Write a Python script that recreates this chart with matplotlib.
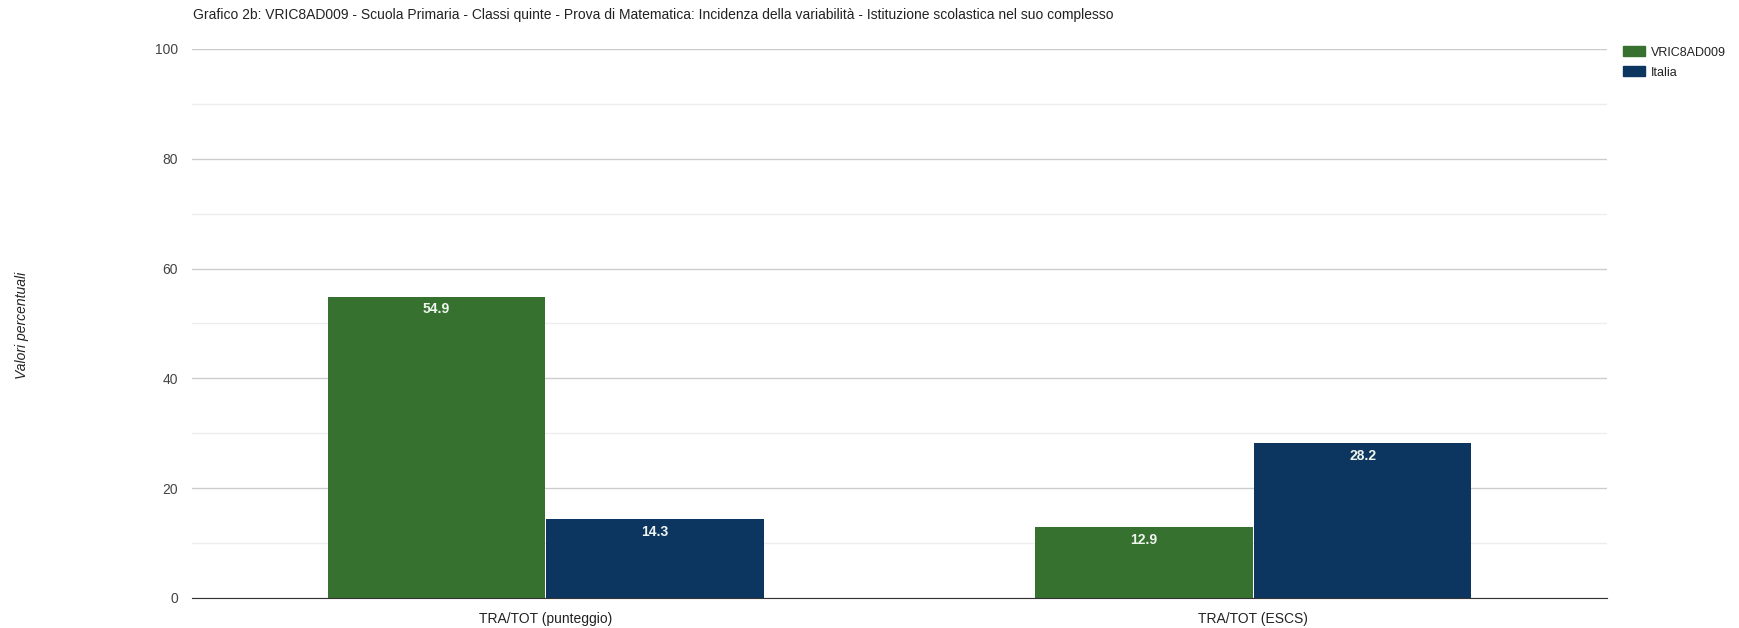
import numpy as np
import matplotlib.pyplot as plt
from matplotlib.patches import Patch
from matplotlib.ticker import MultipleLocator

categories = ["TRA/TOT (punteggio)", "TRA/TOT (ESCS)"]
series_names = ["VRIC8AD009", "Italia"]
school_vals = [54.9, 12.9]
italy_vals = [14.3, 28.2]

title = ("Grafico 2b: VRIC8AD009 - Scuola Primaria - Classi quinte - Prova di Matematica: "
         "Incidenza della variabilità - Istituzione scolastica nel suo complesso")

green = "#37712f"
navy = "#0c365f"

plt.rcParams["font.family"] = ["Liberation Sans Narrow", "Liberation Sans", "DejaVu Sans"]

fig = plt.figure(figsize=(17.4, 6.28), dpi=100)
ax = fig.add_axes([0.1103, 0.0478, 0.8133, 0.8742])

x = np.arange(len(categories))
w = 0.307
b1 = ax.bar(x - w / 2 - 0.001, school_vals, width=w, color=green, zorder=3)
b2 = ax.bar(x + w / 2 + 0.001, italy_vals, width=w, color=navy, zorder=3)

for bars, vals in [(b1, school_vals), (b2, italy_vals)]:
    for bar, v in zip(bars, vals):
        ax.text(bar.get_x() + bar.get_width() / 2, v - 1.0, f"{v:.1f}",
                ha="center", va="top", color="#eef5ee", fontsize=10,
                fontweight="bold", zorder=4)

ax.set_xlim(-0.5, 1.5)
ax.set_ylim(0, 100)
ax.yaxis.set_major_locator(MultipleLocator(20))
ax.yaxis.set_minor_locator(MultipleLocator(10))
ax.grid(axis="y", which="major", color="#cccccc", lw=1, zorder=0)
ax.grid(axis="y", which="minor", color="#ededed", lw=1, zorder=0)
ax.set_axisbelow(True)

for s in ["top", "right", "left"]:
    ax.spines[s].set_visible(False)
ax.spines["bottom"].set_color("#333333")
ax.spines["bottom"].set_zorder(5)

ax.set_xticks(x)
ax.set_xticklabels(categories)
ax.tick_params(axis="x", length=0, pad=10, labelsize=10, labelcolor="#222222")
ax.tick_params(axis="y", which="both", length=0, pad=10, labelsize=10, labelcolor="#444444")

fig.text(0.0126, 0.482, "Valori percentuali", rotation=90, style="italic",
         ha="center", va="center", fontsize=10, color="#222222")
fig.text(0.111, 0.976, title, ha="left", va="center", fontsize=10, color="#222222")

handles = [Patch(color=green, label=series_names[0]),
           Patch(color=navy, label=series_names[1])]
fig.legend(handles=handles, loc="upper left", bbox_to_anchor=(0.9328, 0.926),
           frameon=False, fontsize=9, handlelength=1.75, handleheight=0.85,
           handletextpad=0.5, labelspacing=0.6, borderaxespad=0, borderpad=0,
           labelcolor="#222222")

fig.savefig("out.png", dpi=100, facecolor="white")
